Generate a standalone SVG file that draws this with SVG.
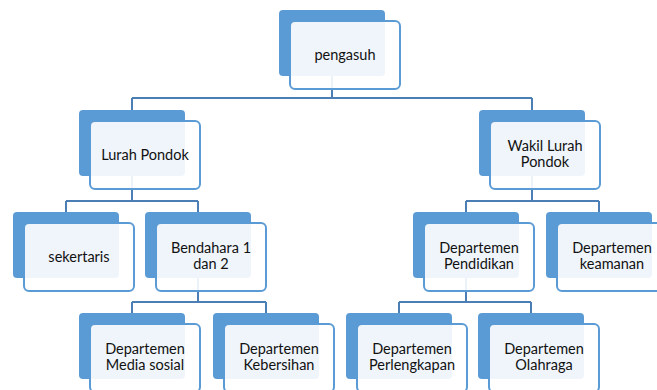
<svg xmlns="http://www.w3.org/2000/svg" width="657" height="390" viewBox="0 0 657 390">
<style>
.back{fill:#5B9BD5;}
.front{fill:#FFFFFF;fill-opacity:0.9;stroke:#5B9BD5;stroke-width:2;}
.conn{fill:none;stroke:#4A7EB5;stroke-width:2;}
text{font-family:Lato,"Open Sans","Liberation Sans",sans-serif;font-size:14.5px;fill:#111;text-anchor:middle;}
</style>
<rect width="657" height="390" fill="#FFFFFF"/>
<g id="connectors">
<path class="conn" d="M332,76V98M132,98H532M132,98V110M532,98V110"/>
<path class="conn" d="M132,176V201M66,201H198M66,201V212M198,201V212"/>
<path class="conn" d="M532,176V201M466,201H599M466,201V212M599,201V212"/>
<path class="conn" d="M198,278V302M132,302H266M132,302V313M266,302V313"/>
<path class="conn" d="M466,278V302M399,302H531M399,302V313M531,302V313"/>
</g>
<g id="pengasuh">
<rect class="back" x="279" y="10" width="106" height="66" rx="4"/>
<rect class="front" x="290" y="21" width="110" height="68" rx="5"/>
<text x="345" y="60">pengasuh</text>
</g>
<g id="lurah-pondok">
<rect class="back" x="79" y="110" width="106" height="66" rx="4"/>
<rect class="front" x="90" y="121" width="110" height="68" rx="5"/>
<text x="145" y="160">Lurah Pondok</text>
</g>
<g id="wakil-lurah-pondok">
<rect class="back" x="479" y="110" width="106" height="66" rx="4"/>
<rect class="front" x="490" y="121" width="110" height="68" rx="5"/>
<text x="545" y="151">Wakil Lurah</text>
<text x="545" y="167">Pondok</text>
</g>
<g id="sekertaris">
<rect class="back" x="13" y="212" width="106" height="66" rx="4"/>
<rect class="front" x="24" y="223" width="110" height="68" rx="5"/>
<text x="79" y="262">sekertaris</text>
</g>
<g id="bendahara">
<rect class="back" x="145" y="212" width="106" height="66" rx="4"/>
<rect class="front" x="156" y="223" width="110" height="68" rx="5"/>
<text x="211" y="253">Bendahara 1</text>
<text x="211" y="269">dan 2</text>
</g>
<g id="dept-pendidikan">
<rect class="back" x="413" y="212" width="106" height="66" rx="4"/>
<rect class="front" x="424" y="223" width="110" height="68" rx="5"/>
<text x="479" y="253">Departemen</text>
<text x="479" y="269">Pendidikan</text>
</g>
<g id="dept-keamanan">
<rect class="back" x="546" y="212" width="106" height="66" rx="4"/>
<rect class="front" x="557" y="223" width="110" height="68" rx="5"/>
<text x="612" y="253">Departemen</text>
<text x="612" y="269">keamanan</text>
</g>
<g id="dept-media-sosial">
<rect class="back" x="79" y="313" width="106" height="66" rx="4"/>
<rect class="front" x="90" y="324" width="110" height="68" rx="5"/>
<text x="145" y="354">Departemen</text>
<text x="145" y="370">Media sosial</text>
</g>
<g id="dept-kebersihan">
<rect class="back" x="213" y="313" width="106" height="66" rx="4"/>
<rect class="front" x="224" y="324" width="110" height="68" rx="5"/>
<text x="279" y="354">Departemen</text>
<text x="279" y="370">Kebersihan</text>
</g>
<g id="dept-perlengkapan">
<rect class="back" x="346" y="313" width="106" height="66" rx="4"/>
<rect class="front" x="357" y="324" width="110" height="68" rx="5"/>
<text x="412" y="354">Departemen</text>
<text x="412" y="370">Perlengkapan</text>
</g>
<g id="dept-olahraga">
<rect class="back" x="478" y="313" width="106" height="66" rx="4"/>
<rect class="front" x="489" y="324" width="110" height="68" rx="5"/>
<text x="544" y="354">Departemen</text>
<text x="544" y="370">Olahraga</text>
</g>
</svg>
